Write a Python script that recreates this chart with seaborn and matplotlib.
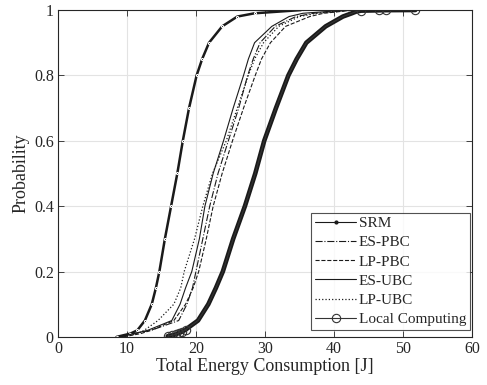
import numpy as np
import pandas as pd
import matplotlib
matplotlib.use("Agg")
import matplotlib.pyplot as plt
from matplotlib.lines import Line2D
import seaborn as sns

# Probability grid (CDF levels) shared by the curves
prob = [0.0, 0.01, 0.02, 0.05, 0.1, 0.15, 0.2, 0.3, 0.4, 0.5, 0.6, 0.7,
        0.8, 0.85, 0.9, 0.95, 0.98, 0.99, 1.0]

srm     = [8.5, 10.5, 11.5, 12.6, 13.6, 14.2, 14.7, 15.5, 16.4, 17.3, 18.1, 19.0,
           20.1, 20.9, 21.9, 23.8, 26.0, 28.5, 35.4]
es_pbc  = [9.0, 11.0, 13.5, 17.5, 18.7, 19.5, 20.0, 21.0, 22.0, 23.2, 24.7, 26.2,
           27.5, 28.3, 29.3, 31.5, 34.5, 37.0, 42.5]
lp_pbc  = [9.5, 12.0, 13.5, 16.8, 18.5, 19.6, 20.4, 21.5, 22.5, 23.8, 25.3, 26.9,
           28.6, 29.5, 30.8, 33.0, 36.5, 38.5, 43.0]
es_ubc  = [9.0, 11.0, 13.0, 16.5, 17.7, 18.5, 19.4, 20.5, 21.3, 22.5, 24.0, 25.4,
           26.9, 27.6, 28.5, 31.0, 33.5, 35.5, 42.0]
lp_ubc  = [9.5, 11.5, 12.5, 14.5, 16.8, 17.8, 18.3, 19.8, 21.0, 22.4, 24.4, 26.0,
           27.6, 28.5, 29.8, 32.0, 35.0, 37.5, 43.0]

# Local computing has its own grid including the sparse tail samples
local_prob   = [0.002, 0.005, 0.008, 0.012, 0.016, 0.022, 0.03, 0.05, 0.1, 0.15, 0.2,
                0.3, 0.4, 0.5, 0.6, 0.7, 0.8, 0.85, 0.9, 0.95, 0.98, 0.99,
                0.995, 0.998, 0.999, 0.9995, 1.0]
local_energy = [15.9, 16.6, 17.1, 17.5, 18.0, 18.5, 19.0, 20.3, 21.8, 22.9, 23.9,
                25.4, 27.1, 28.6, 29.9, 31.6, 33.4, 34.6, 36.0, 38.8, 41.3, 42.6,
                43.2, 43.9, 46.5, 47.5, 51.8]

labels = ["SRM", "ES-PBC", "LP-PBC", "ES-UBC", "LP-UBC", "Local Computing"]

sns.set_theme(style="whitegrid")
plt.rcParams["font.family"] = ["Liberation Serif", "DejaVu Serif"]

fig = plt.figure(figsize=(4.87, 3.85), dpi=100)
ax = fig.add_axes([0.119, 0.125, 0.850, 0.849])

ink = "#1a1a1a"
sns.lineplot(x=srm, y=prob, ax=ax, sort=False, estimator=None, color=ink,
             lw=1.8, linestyle="-", marker=".", markersize=3)
sns.lineplot(x=es_pbc, y=prob, ax=ax, sort=False, estimator=None, color=ink,
             lw=0.8, linestyle="-.")
sns.lineplot(x=lp_pbc, y=prob, ax=ax, sort=False, estimator=None, color=ink,
             lw=0.8, linestyle="--")
sns.lineplot(x=es_ubc, y=prob, ax=ax, sort=False, estimator=None, color=ink,
             lw=0.8, linestyle="-")
sns.lineplot(x=lp_ubc, y=prob, ax=ax, sort=False, estimator=None, color=ink,
             lw=0.9, linestyle=":")

n = len(local_energy)
mark_idx = [0, 1, 2, 3, 4, 5, n - 4, n - 3, n - 2, n - 1]
sns.lineplot(x=local_energy, y=local_prob, ax=ax, sort=False, estimator=None,
             color=ink, lw=3.3, linestyle="-")
sns.lineplot(x=local_energy, y=local_prob, ax=ax, sort=False, estimator=None,
             color="#333333", lw=0.8, linestyle="-", marker="o", markersize=6,
             markerfacecolor="none", markeredgecolor="#333333",
             markeredgewidth=0.8, markevery=mark_idx)

ax.set_xlim(0, 60)
ax.set_ylim(0, 1)
ax.set_xticks([0, 10, 20, 30, 40, 50, 60])
ax.set_yticks([0, 0.2, 0.4, 0.6, 0.8, 1.0])
ax.set_yticklabels(["0", "0.2", "0.4", "0.6", "0.8", "1"])
ax.set_xlabel("Total Energy Consumption [J]", fontsize=13, labelpad=1)
ax.set_ylabel("Probability", fontsize=13, labelpad=3)

ax.set_facecolor("white")
ax.grid(True, color="#e3e3e3", lw=0.8)
for s in ax.spines.values():
    s.set_visible(True)
    s.set_color("#262626")
    s.set_linewidth(0.8)
ax.tick_params(axis="both", which="both", direction="in", length=4, width=0.6,
               color="#262626", labelsize=11.5, top=True, right=True,
               bottom=True, left=True, pad=3)

handles = [
    Line2D([], [], color=ink, lw=0.8, marker=".", markersize=4),
    Line2D([], [], color=ink, lw=0.8, linestyle="-."),
    Line2D([], [], color=ink, lw=0.8, linestyle="--"),
    Line2D([], [], color=ink, lw=0.8, linestyle="-"),
    Line2D([], [], color=ink, lw=0.9, linestyle=":"),
    Line2D([], [], color="#333333", lw=0.8, marker="o", markersize=6,
           markerfacecolor="none", markeredgewidth=0.8),
]
leg = ax.legend(handles, labels, loc="lower right",
                bbox_to_anchor=(0.995, 0.021), fontsize=11, frameon=True,
                fancybox=False, handlelength=2.7, handletextpad=0.15,
                borderpad=0.25, labelspacing=0.36, borderaxespad=0.0)
leg.get_frame().set_edgecolor("#262626")
leg.get_frame().set_linewidth(0.8)

fig.savefig("out.png", dpi=100)
